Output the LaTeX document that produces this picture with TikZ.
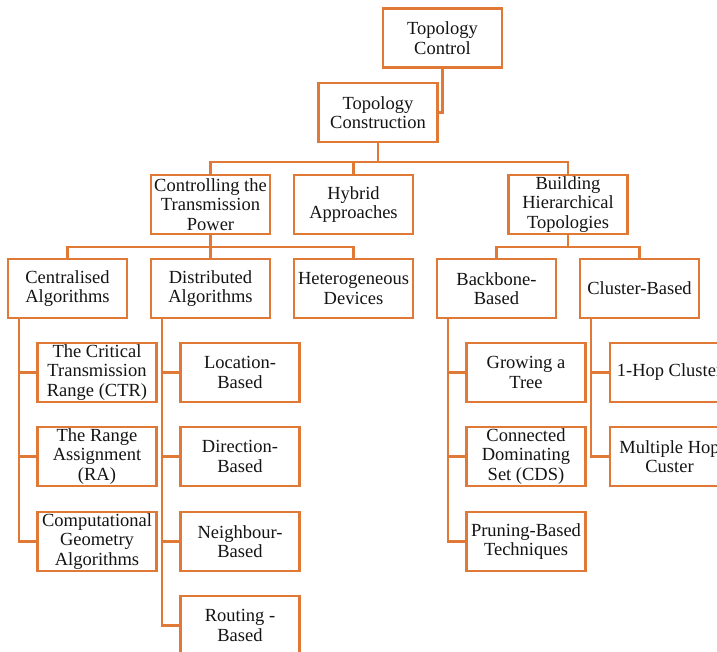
\documentclass[tikz,border=0pt]{standalone}
\usepackage{fontspec}
\setmainfont{Liberation Serif}
\definecolor{boxorange}{RGB}{224,120,54}
\definecolor{txt}{RGB}{20,20,20}
\tikzset{
  box/.style={draw=boxorange, line width=2.4pt, fill=white, minimum width=119pt, minimum height=59pt,
    inner sep=1pt, align=center, text=txt, font=\fontsize{18.5}{19.5}\selectfont},
  link/.style={draw=boxorange, line width=2.4pt}
}
\begin{document}
\begin{tikzpicture}[x=1pt,y=-1pt]
\useasboundingbox (0,0) rectangle (717,651);
\clip (0,0) rectangle (717,651);
% buses
\coordinate (b1) at (0,162);
\coordinate (b2) at (0,247);
% nodes
\node[box] (tc) at (442.5,38) {Topology\\Control};
\node[box] (tcons) at (378,112.5) {Topology\\Construction};
\node[box] (ctp) at (210.5,204.5) {Controlling the\\Transmission\\Power};
\node[box] (hyb) at (353.5,204.5) {Hybrid\\Approaches};
\node[box] (bht) at (568,204.5) {Building\\Hierarchical\\Topologies};
\node[box] (cent) at (67.5,288.5) {Centralised\\Algorithms};
\node[box] (dist) at (210.5,288.5) {Distributed\\Algorithms};
\node[box] (het) at (353.5,288.5) {Heterogeneous\\Devices};
\node[box] (back) at (496.5,288.5) {Backbone-\\Based};
\node[box] (clus) at (639.5,288.5) {Cluster-Based};
\node[box] (ctr) at (97,372.5) {The Critical\\Transmission\\Range (CTR)};
\node[box] (ra) at (97,456.5) {The Range\\Assignment\\(RA)};
\node[box] (cga) at (97,541.5) {Computational\\Geometry\\Algorithms};
\node[box] (loc) at (240,372.5) {Location-\\Based};
\node[box] (dir) at (240,456.5) {Direction-\\Based};
\node[box] (nei) at (240,541.5) {Neighbour-\\Based};
\node[box] (rout) at (240,625.5) {Routing -\\Based};
\node[box] (grow) at (526,372.5) {Growing a\\Tree};
\node[box] (cds) at (526,456.5) {Connected\\Dominating\\Set (CDS)};
\node[box] (prune) at (526,541.5) {Pruning-Based\\Techniques};
\node[box] (hop1) at (669.5,372.5) {1-Hop Cluster};
\node[box] (mhop) at (669.5,456.5) {Multiple Hop\\Custer};
% connectors
\draw[link] (tc.south) |- (tcons.east);
\draw[link] (ctp.north) |- (tcons.south |- b1) -- (tcons.south);
\draw[link] (hyb.north) |- (tcons.south |- b1);
\draw[link] (bht.north) |- (tcons.south |- b1);
\draw[link] (cent.north) |- (ctp.south |- b2) -- (ctp.south);
\draw[link] (dist.north) -- (ctp.south);
\draw[link] (het.north) |- (ctp.south |- b2);
\draw[link] (back.north) |- (bht.south |- b2) -- (bht.south);
\draw[link] (clus.north) |- (bht.south |- b2);
\draw[link] ([xshift=12pt]cent.south west) |- (ctr.west);
\draw[link] ([xshift=12pt]cent.south west) |- (ra.west);
\draw[link] ([xshift=12pt]cent.south west) |- (cga.west);
\draw[link] ([xshift=12pt]dist.south west) |- (loc.west);
\draw[link] ([xshift=12pt]dist.south west) |- (dir.west);
\draw[link] ([xshift=12pt]dist.south west) |- (nei.west);
\draw[link] ([xshift=12pt]dist.south west) |- (rout.west);
\draw[link] ([xshift=12pt]back.south west) |- (grow.west);
\draw[link] ([xshift=12pt]back.south west) |- (cds.west);
\draw[link] ([xshift=12pt]back.south west) |- (prune.west);
\draw[link] ([xshift=12pt]clus.south west) |- (hop1.west);
\draw[link] ([xshift=12pt]clus.south west) |- (mhop.west);
\end{tikzpicture}
\end{document}
